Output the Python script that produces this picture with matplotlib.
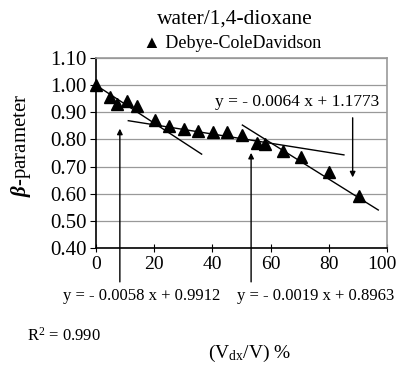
import matplotlib.pyplot as plt
import matplotlib.transforms as mtransforms
import numpy as np

plt.rcParams['font.family'] = ['Liberation Serif', 'DejaVu Serif']
plt.rcParams['mathtext.fontset'] = 'custom'
plt.rcParams['mathtext.rm'] = 'Liberation Serif'
plt.rcParams['mathtext.it'] = 'Liberation Serif:italic'
plt.rcParams['mathtext.bf'] = 'Liberation Serif:bold'
plt.rcParams['mathtext.bfit'] = 'Liberation Serif:italic:bold'

# data
vdx = [0, 4.8, 7.1, 10.5, 14.0, 20.3, 25.1, 30.4, 35.2, 40.1, 44.9,
       50.1, 55.2, 58.1, 64.2, 70.4, 80.2, 90.4]
beta = [1.000, 0.957, 0.929, 0.942, 0.924, 0.871, 0.850, 0.837, 0.832, 0.826, 0.826,
        0.816, 0.786, 0.782, 0.758, 0.736, 0.679, 0.593]

# fitted lines as drawn: (slope, intercept, x start, x end)
fit_slopes = [-0.0070, -0.0017, -0.0067]
fit_intercepts = [1.000, 0.888, 1.190]
fit_x0 = [0, 11.1, 50.3]
fit_x1 = [36.3, 85.2, 97.0]

eq_labels = ["y = - 0.0058 x + 0.9912", "y = - 0.0019 x + 0.8963",
             "y = - 0.0064 x + 1.1773"]

fig = plt.figure(figsize=(4, 3.65), dpi=100)
ax = fig.add_axes([0.24, 0.3205, 0.7275, 0.5205])

ax.set_xlim(0, 100)
ax.set_ylim(0.40, 1.10)
ax.set_xticks(np.arange(0, 101, 20))
ax.set_yticks(np.arange(0.40, 1.101, 0.10))
ax.set_yticklabels([f"{v:.2f}" for v in np.arange(0.40, 1.101, 0.10)])
ax.yaxis.grid(True, color="#999999", linewidth=0.9)
ax.set_axisbelow(True)
for s in ["top", "right"]:
    ax.spines[s].set_color("#999999")
    ax.spines[s].set_linewidth(1.2)
ax.spines["left"].set_linewidth(1.2)
ax.spines["bottom"].set_linewidth(1.2)
ax.tick_params(axis="x", direction="inout", length=6, labelsize=14, pad=3)
ax.tick_params(axis="y", direction="out", length=4, labelsize=15, pad=3)

# nudge the "100" label so it stays inside the figure
last = ax.get_xticklabels()[-1]
last.set_transform(last.get_transform()
                   + mtransforms.ScaledTranslation(-4 / 72, 0, fig.dpi_scale_trans))

for m, b, a0, a1 in zip(fit_slopes, fit_intercepts, fit_x0, fit_x1):
    xs = np.array([a0, a1])
    ax.plot(xs, m * xs + b, color="black", linewidth=1.0, zorder=2)

ax.plot(vdx, beta, linestyle="none", marker="^", markersize=8.5,
        color="black", zorder=3, clip_on=False)

# arrows
arr = dict(arrowstyle="-|>", color="black", lw=1.0, mutation_scale=8)
ax.annotate("", xy=(8.2, 0.85), xytext=(8.2, 0.265), arrowprops=arr,
            annotation_clip=False)
ax.annotate("", xy=(53.3, 0.761), xytext=(53.3, 0.265), arrowprops=arr,
            annotation_clip=False)
ax.annotate("", xy=(88.2, 0.650), xytext=(88.2, 0.89), arrowprops=arr)

ax.text(69.2, 0.938, eq_labels[2], ha="center", va="center", fontsize=12.5)
fig.text(0.353, 1 - 296 / 365, eq_labels[0], ha="center", va="center", fontsize=12)
fig.text(0.79, 1 - 296 / 365, eq_labels[1], ha="center", va="center", fontsize=12)
fig.text(0.067, 1 - 336 / 365, "R$^2$ = 0.990", ha="left", va="center", fontsize=12)
fig.text(0.623, 1 - 364 / 365, "(V$_{\\mathrm{dx}}$/V) %", ha="center", va="bottom",
         fontsize=14)

fig.text(0.588, 1 - 19 / 365, "water/1,4-dioxane", ha="center", va="center",
         fontsize=15.5)
fig.text(0.58, 1 - 43 / 365, "\u25b2 Debye-ColeDavidson", ha="center", va="center",
         fontsize=13, family=["Liberation Serif", "DejaVu Sans"])
fig.text(0.052, 1 - 145 / 365, r"$\mathbfit{\beta}$-parameter", rotation=90,
         ha="center", va="center", fontsize=15)

fig.savefig("out.png", dpi=100)
